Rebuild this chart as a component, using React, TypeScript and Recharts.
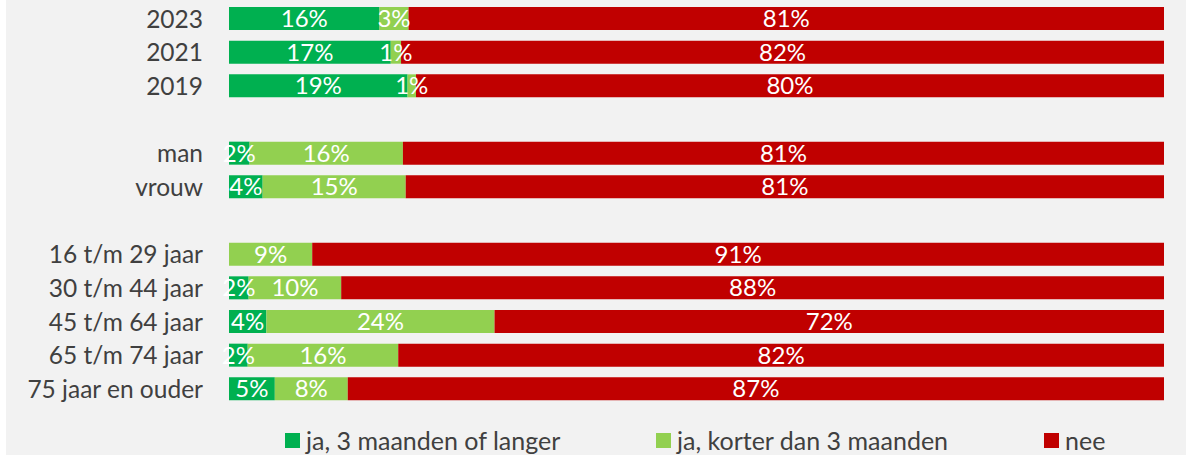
import React from 'react';
import { BarChart, Bar, XAxis, YAxis, Legend, LabelList } from 'recharts';

const categories = [
  '2023', '2021', '2019', '',
  'man', 'vrouw', ' ',
  '16 t/m 29 jaar', '30 t/m 44 jaar', '45 t/m 64 jaar', '65 t/m 74 jaar', '75 jaar en ouder'
];
const langer = [16.1, 17.3, 19.1, 0, 2.2, 3.6, 0, 0, 2.1, 4.0, 2.0, 4.9];
const korter = [3.1, 1.1, 0.9, 0, 16.4, 15.3, 0, 8.9, 9.9, 24.4, 16.1, 7.8];
const nee = [80.8, 81.6, 80.0, 0, 81.4, 81.1, 0, 91.1, 88.0, 71.6, 81.9, 87.3];

const seriesNames = ['ja, 3 maanden of langer', 'ja, korter dan 3 maanden', 'nee'];
const COLORS = ['#00b050', '#92d050', '#c00000'];
const FONT = 'Lato, "Open Sans", sans-serif';

const rows = categories.map((name, i) => ({
  name,
  langer: langer[i],
  korter: korter[i],
  nee: nee[i]
}));

const pct = (v: any) => (v ? `${Math.round(Number(v))}%` : '');

// legend x positions, relative to the chart's left edge
const LEGEND_X = [279, 650, 1038];

const renderLegend = () => (
  <div style={{ position: 'relative', height: 44, width: 1180 }}>
    {seriesNames.map((s, i) => (
      <div
        key={s}
        style={{
          position  : 'absolute',
          left      : LEGEND_X[i],
          top       : 20,
          display   : 'flex',
          alignItems: 'center',
          fontFamily: FONT,
          fontSize  : 25,
          color     : '#404040',
          whiteSpace: 'nowrap',
          lineHeight: '28px'
        }}
      >
        <span style={{ width: 15, height: 15, background: COLORS[i], marginRight: 6, display: 'inline-block' }} />
        {s}
      </div>
    ))}
  </div>
);

export default function App () {
  return (
    <div style={{ position: 'absolute', left: 0, top: 0, width: 1186, height: 455, background: '#ffffff' }}>
      <div style={{ position: 'absolute', left: 6, top: 0, width: 1180, height: 455, background: '#f2f2f2' }}>
        <BarChart
          width={1180}
          height={455}
          data={rows}
          layout="vertical"
          stackOffset="expand"
          barSize={23}
          margin={{ top: 2, right: 22, left: 0, bottom: 5 }}
        >
          <XAxis type="number" domain={[0, 1]} hide />
          <YAxis
            type="category"
            dataKey="name"
            width={223}
            axisLine={false}
            tickLine={false}
            tickSize={0}
            tickMargin={26}
            interval={0}
            tick={{ fill: '#404040', fontSize: 24.5, fontFamily: FONT }}
          />
          <Legend verticalAlign="bottom" content={renderLegend} />
          {(['langer', 'korter', 'nee'] as const).map((key, i) => (
            <Bar
              key={key}
              dataKey={key}
              name={seriesNames[i]}
              stackId="a"
              fill={COLORS[i]}
              isAnimationActive={false}
            >
              <LabelList
                dataKey={key}
                position="center"
                formatter={pct}
                fill="#ffffff"
                style={{ fontSize: 24, fontFamily: FONT }}
              />
            </Bar>
          ))}
        </BarChart>
      </div>
    </div>
  );
}
